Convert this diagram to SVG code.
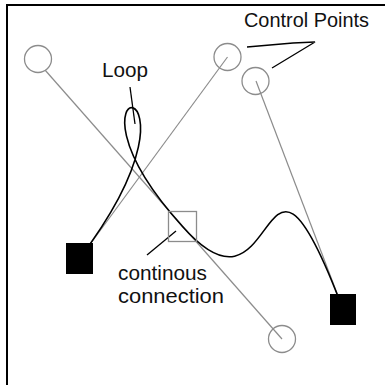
<svg xmlns="http://www.w3.org/2000/svg" width="385" height="385" viewBox="0 0 385 385">
<style>
.frame{stroke:#000;stroke-width:2;fill:none}
.handle{stroke:#8c8c8c;stroke-width:1.2;fill:none}
.cp{stroke:#8c8c8c;stroke-width:1.3;fill:none}
.end{fill:#000;stroke:#000;stroke-width:1}
.joint{fill:none;stroke:#8c8c8c;stroke-width:1.3}
.curve{stroke:#000;stroke-width:1.6;fill:none}
.lead{stroke:#000;stroke-width:1.3;fill:none}
.lbl{font-family:"Liberation Sans",Arial,sans-serif;font-size:20px;fill:#111}
</style>
<rect width="385" height="385" fill="#fff"/>
<path class="frame" d="M7,385 V5 H385"/>
<g id="connectors">
<line class="handle" x1="45" y1="70" x2="282" y2="339"/>
<line class="handle" x1="227.5" y1="57" x2="80" y2="258"/>
<line class="handle" x1="256" y1="81" x2="343" y2="309"/>
<path class="curve" d="M79.5,258.5 C229,60 38,66 182.5,226.5 C283,340 257,81 343,309.5"/>
<line class="lead" x1="130" y1="87" x2="135" y2="124"/>
<polyline class="lead" points="247,47 293,43 315,42 272,68"/>
<line class="lead" x1="147" y1="255" x2="176" y2="231"/>
</g>
<g id="cp1"><circle class="cp" cx="38" cy="59" r="13.5"/></g>
<g id="cp2"><circle class="cp" cx="227.5" cy="57" r="13.5"/></g>
<g id="cp3"><circle class="cp" cx="255.5" cy="81" r="13.5"/></g>
<g id="cp4"><circle class="cp" cx="282" cy="339" r="13.5"/></g>
<g id="start"><rect class="end" x="66.5" y="243.5" width="26" height="30"/></g>
<g id="end"><rect class="end" x="330.5" y="294.5" width="25" height="30"/></g>
<g id="joint"><rect class="joint" x="168.5" y="211.5" width="28" height="30"/></g>
<g id="label-loop"><text class="lbl" x="102" y="77" textLength="46" lengthAdjust="spacingAndGlyphs">Loop</text></g>
<g id="label-cp"><text class="lbl" x="244" y="27" textLength="125" lengthAdjust="spacingAndGlyphs">Control Points</text></g>
<g id="label-cont">
<text class="lbl" x="118" y="280" textLength="89" lengthAdjust="spacingAndGlyphs">continous</text>
<text class="lbl" x="118" y="303" textLength="106" lengthAdjust="spacingAndGlyphs">connection</text>
</g>
</svg>
